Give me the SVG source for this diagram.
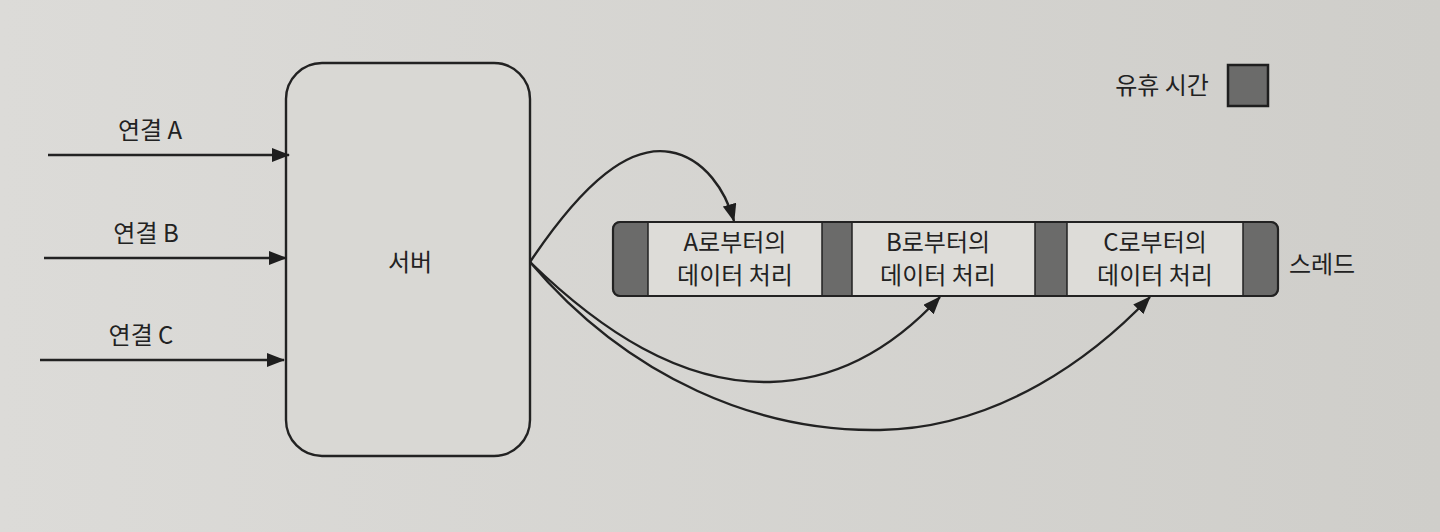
<svg xmlns="http://www.w3.org/2000/svg" width="1440" height="532" viewBox="0 0 1440 532">
<defs>
<linearGradient id="bg" x1="0" y1="0" x2="1" y2="0">
<stop offset="0" stop-color="#dcdbd8"/>
<stop offset="1" stop-color="#cfceca"/>
</linearGradient>
<marker id="ah" markerWidth="18" markerHeight="14" refX="17" refY="7" orient="auto" markerUnits="userSpaceOnUse">
<path d="M0,0 L18,7 L0,14 Z" fill="#1e1e1e"/>
</marker>
<style>
.t{font-family:"Noto Sans CJK KR","Noto Sans",sans-serif;fill:#222;font-size:24px;text-anchor:middle}
.ln{fill:none;stroke:#222;stroke-width:2.4}
.idle{fill:#6b6b6a;stroke:#222;stroke-width:1.5}
.work{fill:#dddcd8;stroke:#222;stroke-width:1.5}
</style>
</defs>
<rect width="1440" height="532" fill="url(#bg)"/>
<g id="server">
<rect x="286" y="63" width="244" height="393" rx="36" fill="#d9d8d4" stroke="#222" stroke-width="2.4"/>
<text class="t" x="410" y="271">서버</text>
</g>
<g id="thread">
<rect x="613" y="222" width="665" height="74" rx="7" class="idle"/>
<rect x="648" y="222" width="174" height="74" class="work"/>
<rect x="852" y="222" width="183" height="74" class="work"/>
<rect x="1067" y="222" width="176" height="74" class="work"/>
<rect x="613" y="222" width="665" height="74" rx="7" fill="none" stroke="#222" stroke-width="2.2"/>
<text class="t" x="735" y="251">A로부터의</text>
<text class="t" x="735" y="284">데이터 처리</text>
<text class="t" x="938" y="251">B로부터의</text>
<text class="t" x="938" y="284">데이터 처리</text>
<text class="t" x="1155" y="251">C로부터의</text>
<text class="t" x="1155" y="284">데이터 처리</text>
</g>
<g id="thread-label"><text class="t" x="1322" y="273">스레드</text></g>
<g id="legend">
<text class="t" x="1162" y="94">유휴 시간</text>
<rect x="1228" y="65" width="40" height="41" fill="#6b6b6a" stroke="#1e1e1e" stroke-width="2.5"/>
</g>
<g id="connA-label"><text class="t" x="150" y="139">연결 A</text></g>
<g id="connB-label"><text class="t" x="146" y="242">연결 B</text></g>
<g id="connC-label"><text class="t" x="141" y="344">연결 C</text></g>
<g id="connectors">
<path class="ln" d="M48,155 L289,155" marker-end="url(#ah)"/>
<path class="ln" d="M44,258 L286,258" marker-end="url(#ah)"/>
<path class="ln" d="M40,360 L284,360" marker-end="url(#ah)"/>
<path class="ln" d="M530,262 C585,180 630,145 670,152 C705,158 726,192 734,221" marker-end="url(#ah)"/>
<path class="ln" d="M530,262 C600,330 680,384 770,382 C850,380 905,335 940,297" marker-end="url(#ah)"/>
<path class="ln" d="M530,262 C630,380 760,432 880,430 C1000,428 1095,355 1150,297" marker-end="url(#ah)"/>
</g>
</svg>
